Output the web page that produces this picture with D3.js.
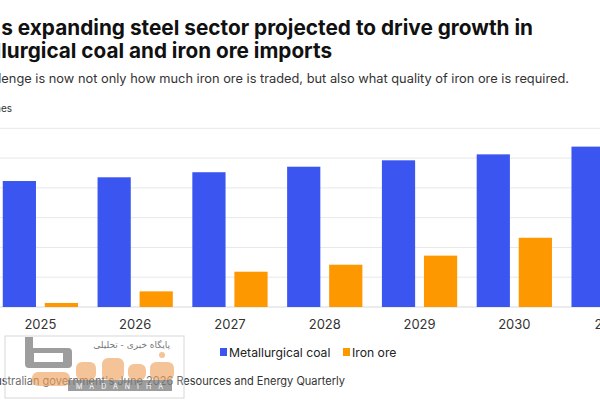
<!DOCTYPE html>
<html>
<head>
<meta charset="utf-8">
<script src="https://cdn.jsdelivr.net/npm/d3@7"></script>
<style>
  body { margin: 0; background: #fff; }
  svg { display: block; font-family: Inter, "Noto Sans", sans-serif; }
</style>
</head>
<body>
<div id="chart"></div>
<script>
// chart values (million tonnes)
const years = ["2025", "2026", "2027", "2028", "2029", "2030", "2031"];
const metCoal = [84.6, 87.1, 90.5, 94.2, 98.5, 102.5, 107.7];
const ironOre = [2.7, 10.5, 23.7, 28.4, 34.5, 46.5, 52];
const seriesNames = ["Metallurgical coal", "Iron ore"];
const yTicks = [0, 20, 40, 60, 80, 100, 120];

const colors = ["#3b55f0", "#fd9800"];

const width = 600;
const height = 400;

const svg = d3.select("#chart")
    .append("svg")
    .attr("width", width)
    .attr("height", height);

svg.append("rect").attr("width", width).attr("height", height).attr("fill", "#fff");

// The reference is cropped on the left: each text is anchored at its right end,
// sized so that the part still visible spans the same width as in the picture.
function fitText(full, visible, right, baseline, span, weight, fill) {
    const probe = svg.append("text")
        .attr("font-size", 20)
        .attr("font-weight", weight)
        .text(visible);
    const w = probe.node().getComputedTextLength();
    probe.remove();
    return svg.append("text")
        .attr("x", right).attr("y", baseline)
        .attr("text-anchor", "end")
        .attr("font-size", 20 * span / w)
        .attr("font-weight", weight)
        .attr("fill", fill)
        .text(full);
}

fitText("India's expanding steel sector projected to drive growth in",
    "s expanding steel sector projected to drive growth in", 533, 35, 532, 700, "#111");
fitText("metallurgical coal and iron ore imports",
    "lurgical coal and iron ore imports", 332, 58, 331, 700, "#111");
fitText("The challenge is now not only how much iron ore is traded, but also what quality of iron ore is required.",
    "enge is now not only how much iron ore is traded, but also what quality of iron ore is required.",
    569, 83, 568, 400, "#333");

svg.append("text")
    .attr("x", 12).attr("y", 112)
    .attr("text-anchor", "end")
    .attr("font-size", 10)
    .attr("fill", "#333")
    .text("Million tonnes");

// scales
const x0 = d3.scaleBand()
    .domain(years)
    .range([-7, 656.5])
    .paddingInner(0.206)
    .paddingOuter(0.103);

const x1 = d3.scaleBand()
    .domain(seriesNames)
    .range([0, x0.bandwidth()])
    .paddingInner(0.21);

const y = d3.scaleLinear()
    .domain([0, 120])
    .range([307, 128.3]);

// gridlines
svg.append("g")
    .selectAll("line")
    .data(yTicks)
    .join("line")
    .attr("x1", 0).attr("x2", width)
    .attr("y1", (d) => y(d)).attr("y2", (d) => y(d))
    .attr("stroke", (d) => d === 0 ? "#d8d8d8" : "#e8e8e8")
    .attr("stroke-width", 1);

// y axis labels sit left of the visible area
const yAxis = d3.axisLeft(y).tickValues(yTicks).tickSize(0);
svg.append("g")
    .attr("transform", "translate(-12,0)")
    .call(yAxis)
    .call((g) => g.select(".domain").remove());

// bars
const rows = years.map((yr, i) => ({ year: yr, values: [metCoal[i], ironOre[i]] }));

svg.append("g")
    .selectAll("g")
    .data(rows)
    .join("g")
    .attr("transform", (d) => `translate(${x0(d.year)},0)`)
    .selectAll("rect")
    .data((d) => d.values.map((v, j) => ({ key: seriesNames[j], value: v, j })))
    .join("rect")
    .attr("x", (d) => x1(d.key))
    .attr("width", x1.bandwidth())
    .attr("y", (d) => y(d.value))
    .attr("height", (d) => y(0) - y(d.value))
    .attr("fill", (d) => colors[d.j]);

// x axis
const xAxis = d3.axisBottom(x0).tickSize(0).tickPadding(13);
svg.append("g")
    .attr("transform", `translate(0,${y(0)})`)
    .call(xAxis)
    .call((g) => g.select(".domain").remove())
    .call((g) => g.selectAll("text")
        .attr("font-size", 13)
        .attr("font-family", "Inter, 'Noto Sans', sans-serif")
        .attr("fill", "#333"));

// legend
const legendX = [220, 343];
const legend = svg.append("g")
    .selectAll("g")
    .data(seriesNames)
    .join("g")
    .attr("transform", (d, i) => `translate(${legendX[i]},348)`);
legend.append("rect")
    .attr("width", 7).attr("height", 8)
    .attr("fill", (d, i) => colors[i]);
legend.append("text")
    .attr("x", 9).attr("y", 8.5)
    .attr("font-size", 12.2)
    .attr("fill", "#222")
    .text((d) => d);

// source
fitText("Source: Australian government's June 2026 Resources and Energy Quarterly",
    "stralian government's June 2026 Resources and Energy Quarterly", 345, 385, 344, 400, "#333");

// watermark logo overlay
const wm = svg.append("g").attr("opacity", 0.8);
wm.append("rect")
    .attr("x", 5).attr("y", 336).attr("width", 179).attr("height", 62)
    .attr("fill", "#fff").attr("fill-opacity", 0.35)
    .attr("stroke", "#d0d0d0");
wm.append("path")
    .attr("d", "M25,337 L33,337 L33,348 L68,348 Q72,348 72,352 L72,364 Q72,368 68,368 L29,368 Q25,368 25,364 Z M34,353 L34,362 L63,362 L63,353 Z")
    .attr("fill", "#858585")
    .attr("fill-rule", "evenodd");
const orange = wm.append("g").attr("fill", "#f0a868").attr("fill-opacity", 0.85);
[[32, 372, 38, 14], [76, 362, 20, 18], [102, 358, 22, 22], [128, 364, 18, 16], [150, 362, 24, 18]]
    .forEach(([bx, by, bw, bh]) => orange.append("rect")
        .attr("x", bx).attr("y", by).attr("width", bw).attr("height", bh).attr("rx", 6));
orange.append("circle").attr("cx", 162).attr("cy", 355).attr("r", 3);
wm.append("rect")
    .attr("x", 68).attr("y", 380).attr("width", 104).attr("height", 11)
    .attr("fill", "#858585");
wm.append("text")
    .attr("x", 123).attr("y", 388.5)
    .attr("text-anchor", "middle")
    .attr("font-size", 7)
    .attr("letter-spacing", 7)
    .attr("fill", "#fff")
    .text("MADANIHA");
wm.append("text")
    .attr("x", 170).attr("y", 348)
    .attr("text-anchor", "end")
    .attr("font-family", "'DejaVu Sans', sans-serif")
    .attr("font-size", 9)
    .attr("fill", "#555")
    .text("پایگاه خبری - تحلیلی");
</script>
</body>
</html>
